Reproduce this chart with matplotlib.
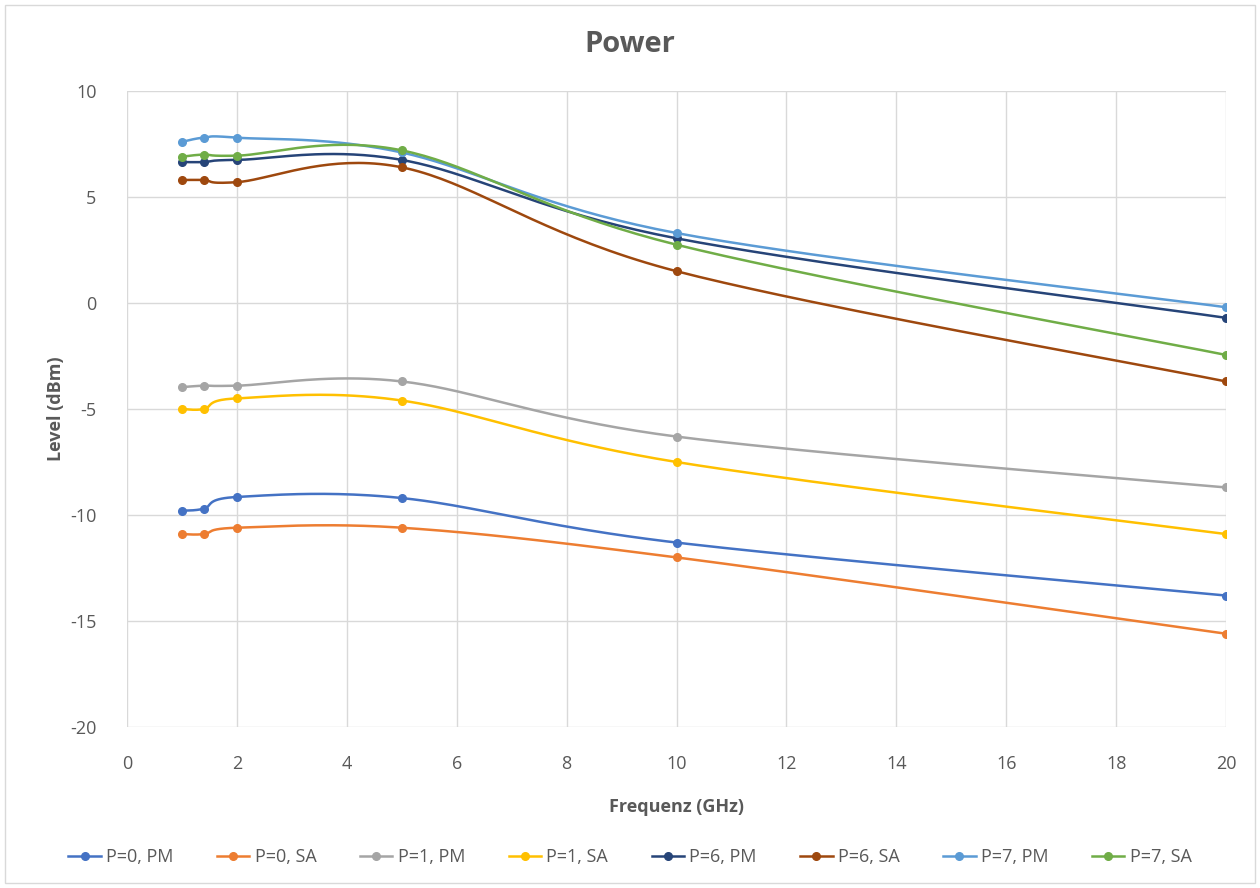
import numpy as np
import matplotlib
matplotlib.use('Agg')
import matplotlib.pyplot as plt
from matplotlib.patches import Rectangle

plt.rcParams['font.family'] = ['Open Sans', 'DejaVu Sans']
plt.rcParams['axes.unicode_minus'] = False

freq = [1, 1.4, 2, 5, 10, 20]

labels = ['P=0, PM', 'P=0, SA', 'P=1, PM', 'P=1, SA',
          'P=6, PM', 'P=6, SA', 'P=7, PM', 'P=7, SA']

p0_pm = [-9.8, -9.7, -9.15, -9.2, -11.3, -13.8]
p0_sa = [-10.9, -10.9, -10.6, -10.6, -12.0, -15.6]
p1_pm = [-3.97, -3.9, -3.9, -3.7, -6.3, -8.7]
p1_sa = [-5.0, -5.0, -4.5, -4.6, -7.5, -10.9]
p6_pm = [6.65, 6.65, 6.75, 6.75, 3.05, -0.7]
p6_sa = [5.8, 5.8, 5.7, 6.4, 1.5, -3.7]
p7_pm = [7.6, 7.8, 7.8, 7.1, 3.3, -0.2]
p7_sa = [6.9, 7.0, 6.95, 7.2, 2.75, -2.45]

series = [p0_pm, p0_sa, p1_pm, p1_sa, p6_pm, p6_sa, p7_pm, p7_sa]
colors = ['#4472C4', '#ED7D31', '#A5A5A5', '#FFC000',
          '#264478', '#9E480E', '#5B9BD5', '#70AD47']
grey = '#595959'


def smooth(x, y, n=40):
    # Bezier smoothing similar to Excel's "smoothed line"
    x = np.asarray(x, float)
    y = np.asarray(y, float)
    px = np.concatenate([[x[0]], x, [x[-1]]])
    py = np.concatenate([[y[0]], y, [y[-1]]])
    xs, ys = [], []
    t = np.linspace(0, 1, n)
    for i in range(len(x) - 1):
        p0 = np.array([px[i + 1], py[i + 1]])
        p3 = np.array([px[i + 2], py[i + 2]])
        c1 = p0 + (p3 - np.array([px[i], py[i]])) / 6
        c2 = p3 - (np.array([px[i + 3], py[i + 3]]) - p0) / 6
        b = ((1 - t) ** 3)[:, None] * p0 + (3 * (1 - t) ** 2 * t)[:, None] * c1 \
            + (3 * (1 - t) * t ** 2)[:, None] * c2 + (t ** 3)[:, None] * p3
        xs.append(b[:, 0])
        ys.append(b[:, 1])
    return np.concatenate(xs), np.concatenate(ys)


fig = plt.figure(figsize=(12.6, 8.88), dpi=100)
ax = fig.add_axes([127 / 1260, 1 - 727 / 888, (1226 - 127) / 1260, (727 - 91) / 888])

for vals, c, lab in zip(series, colors, labels):
    sx, sy = smooth(freq, vals)
    ax.plot(sx, sy, color=c, lw=1.8, zorder=3)
    ax.plot(freq, vals, 'o', color=c, ms=5.5, zorder=4)
    ax.plot([], [], '-o', color=c, lw=1.8, ms=5.5, label=lab)

ax.set_xlim(0, 20)
ax.set_ylim(-20, 10)
ax.set_xticks(np.arange(0, 21, 2))
ax.set_yticks(np.arange(-20, 11, 5))
ax.grid(True, color='#D9D9D9', lw=1)
ax.set_axisbelow(True)
for s in ax.spines.values():
    s.set_visible(False)
ax.tick_params(length=0, labelsize=13, colors=grey)
ax.tick_params(axis='x', pad=20)
ax.tick_params(axis='y', pad=22)

ax.set_xlabel('Frequenz (GHz)', fontsize=13, fontweight='bold', color=grey, labelpad=18)
ax.set_ylabel('Level (dBm)', fontsize=13, fontweight='bold', color=grey, labelpad=4)
fig.text(0.5, 1 - 44 / 888, 'Power', ha='center', va='center', fontsize=21,
         fontweight='bold', color=grey)

fig.legend(loc='center', bbox_to_anchor=(0.5, 1 - 857 / 888), ncol=8, frameon=False,
           fontsize=13, labelcolor=grey, handlelength=1.8, handletextpad=0.3,
           columnspacing=2.4)

fig.patches.append(Rectangle((5 / 1260, 5 / 888), 1250 / 1260, 878 / 888,
                             transform=fig.transFigure, fill=False,
                             edgecolor='#D9D9D9', lw=1))

fig.savefig('out.png', dpi=100, facecolor='white')
